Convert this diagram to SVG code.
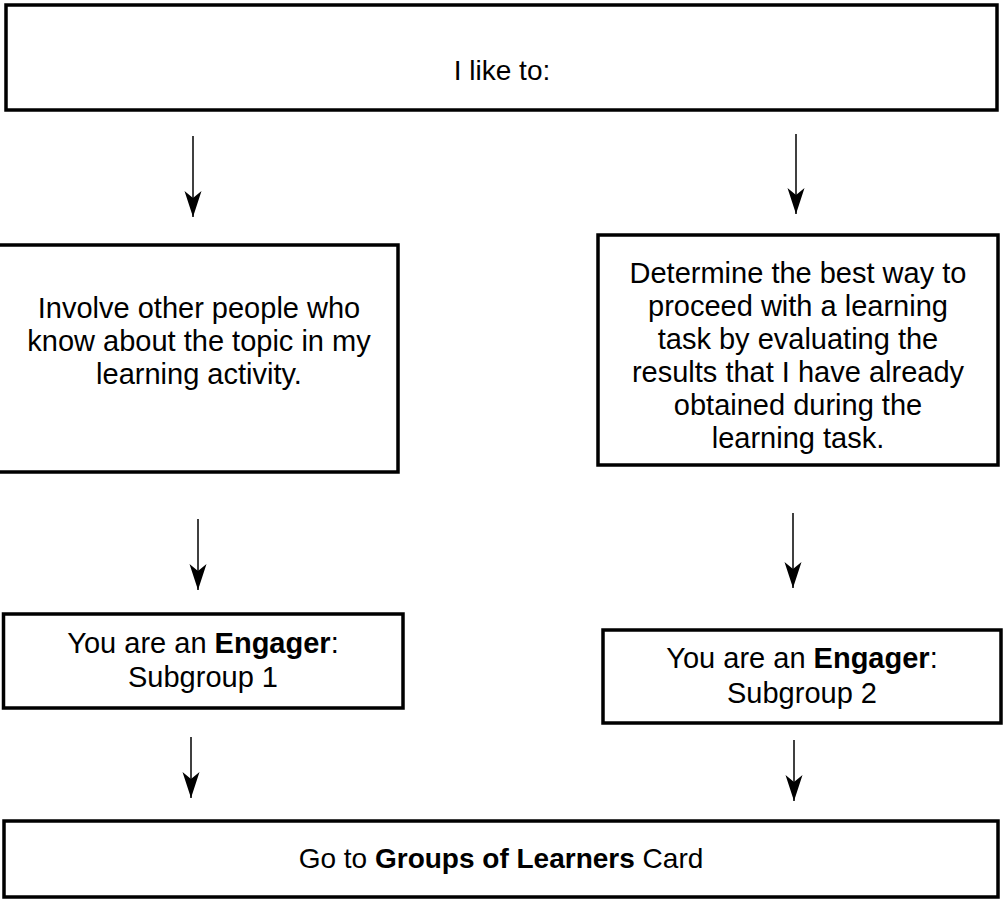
<svg xmlns="http://www.w3.org/2000/svg" width="1004" height="902" viewBox="0 0 1004 902">
<style>
.box{fill:#fff;stroke:#000;stroke-width:3.5}
.t{font-family:"Liberation Sans",Arial,sans-serif;font-size:29px;fill:#000;text-anchor:middle}
.s{font-size:28px}
.b{font-weight:bold}
.c{stroke:#000;stroke-width:1.5;fill:none;marker-end:url(#ah)}
</style>
<defs>
<marker id="ah" markerUnits="userSpaceOnUse" markerWidth="28" markerHeight="20" viewBox="-27 -10 28 20" refX="0" refY="0" orient="auto">
<path d="M0,0 L-26,-8.5 L-19,0 L-26,8.5 Z" fill="#000"/>
</marker>
</defs>
<rect width="1004" height="902" fill="#fff"/>
<g id="connectors">
<line class="c" x1="193" y1="136" x2="193" y2="217"/>
<line class="c" x1="796" y1="134" x2="796" y2="214"/>
<line class="c" x1="198" y1="519" x2="198" y2="590"/>
<line class="c" x1="793" y1="513" x2="793" y2="588"/>
<line class="c" x1="191" y1="737" x2="191" y2="798"/>
<line class="c" x1="794" y1="740" x2="794" y2="801"/>
</g>
<g id="start">
<rect class="box" x="6" y="5" width="991" height="105"/>
<text class="t s" x="502" y="80">I like to:</text>
</g>
<g id="opt1">
<rect class="box" x="-5" y="245" width="403" height="227"/>
<text class="t" x="199" y="318">Involve other people who</text>
<text class="t" x="199" y="351">know about the topic in my</text>
<text class="t" x="199" y="384">learning activity.</text>
</g>
<g id="opt2">
<rect class="box" x="598" y="235" width="400" height="230"/>
<text class="t" x="798" y="283">Determine the best way to</text>
<text class="t" x="798" y="316">proceed with a learning</text>
<text class="t" x="798" y="349">task by evaluating the</text>
<text class="t" x="798" y="382">results that I have already</text>
<text class="t" x="798" y="415">obtained during the</text>
<text class="t" x="798" y="448">learning task.</text>
</g>
<g id="sub1">
<rect class="box" x="3.5" y="614" width="399.5" height="94"/>
<text class="t" x="203" y="653">You are an <tspan class="b">Engager</tspan>:</text>
<text class="t" x="203" y="687">Subgroup 1</text>
</g>
<g id="sub2">
<rect class="box" x="603" y="630" width="398" height="93"/>
<text class="t" x="802" y="668">You are an <tspan class="b">Engager</tspan>:</text>
<text class="t" x="802" y="703">Subgroup 2</text>
</g>
<g id="end">
<rect class="box" x="4" y="821" width="994" height="76"/>
<text class="t s" x="501" y="868">Go to <tspan class="b">Groups of Learners</tspan> Card</text>
</g>
</svg>
